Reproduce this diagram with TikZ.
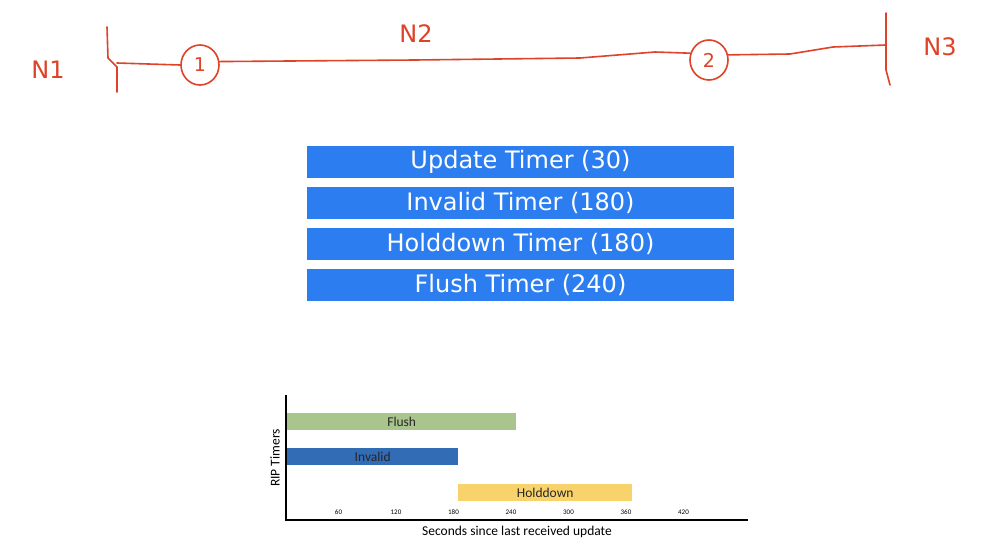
\documentclass[tikz,border=0pt]{standalone}
\usepackage{fontspec}
\setmainfont{DejaVu Sans}
\newfontfamily\chartfont{Carlito}
\definecolor{pen}{RGB}{222,66,40}
\definecolor{timerblue}{RGB}{44,126,240}
\definecolor{flushgreen}{RGB}{169,196,140}
\definecolor{invalidblue}{RGB}{50,108,180}
\definecolor{holdyellow}{RGB}{248,210,106}
\tikzset{
  timerbox/.style={fill=timerblue, text=white, minimum width=427pt, minimum height=32pt,
                   inner sep=0pt, font=\fontsize{24}{26}\selectfont},
  router/.style={draw=pen, ellipse, line width=1.6pt, minimum width=38pt, minimum height=40pt,
                 inner sep=0pt, text=pen, font=\fontsize{19}{20}\selectfont},
  wire/.style={draw=pen, line width=1.6pt, line cap=round, line join=round},
  hand/.style={text=pen, font=\fontsize{24}{26}\selectfont},
  timerbar/.style={anchor=west, minimum height=17pt, inner sep=0pt, text=black!85,
                   font=\chartfont\fontsize{13.5}{14}\selectfont},
  tick/.style={font=\chartfont\fontsize{7}{8}\selectfont},
}
\usetikzlibrary{shapes.geometric}
\begin{document}
\begin{tikzpicture}[x=1pt, y=-1pt]
  \useasboundingbox[fill=white] (0,0) rectangle (1000,557);

  % network sketch
  \node[hand] (n1) at (48,70) {N1};
  \node[hand] (n2) at (416,34) {N2};
  \node[hand] (n3) at (940,47) {N3};
  \node[router] (r1) at (200,65) {1};
  \node[router] (r2) at (709,60) {2};
  \coordinate (lbar) at (117,63);
  \coordinate (rbar) at (886,45);
  \draw[wire] (107,27) -- (108,58) -- (117,67) -- (117,92);
  \draw[wire] (886,13) -- (886,70) -- (890,85);
  \draw[wire] (lbar) -- (r1.west);
  \draw[wire] (r1.10) -- (415,60) -- (580,58) -- (655,52) -- (r2.160);
  \draw[wire] (r2.15) -- (790,54) -- (833,47) -- (rbar);

  % timers
  \node[timerbox] (upd) at (520.5,162) {Update Timer (30)};
  \node[timerbox] (inv) at (520.5,203) {Invalid Timer (180)};
  \node[timerbox] (hold) at (520.5,244) {Holddown Timer (180)};
  \node[timerbox] (flush) at (520.5,284.5) {Flush Timer (240)};

  % chart
  \draw[line width=1.8pt] (286,395) -- (286,520) -- (748,520);
  \node[timerbar, fill=flushgreen, minimum width=229pt] (fbar) at (287,421.5) {Flush};
  \node[timerbar, fill=invalidblue, minimum width=171pt] (ibar) at (287,456.5) {Invalid};
  \node[timerbar, fill=holdyellow, minimum width=174pt] (hbar) at (458,492.5) {Holddown};
  \foreach \s in {60,120,...,420}
    \node[tick] at ({281+\s/60*57.5},512) {\s};
  \node[font=\chartfont\fontsize{13.5}{14}\selectfont] (xlab) at (517,532) {Seconds since last received update};
  \node[font=\chartfont\fontsize{13.5}{14}\selectfont, rotate=90] (ylab) at (275,458) {RIP Timers};
\end{tikzpicture}
\end{document}
